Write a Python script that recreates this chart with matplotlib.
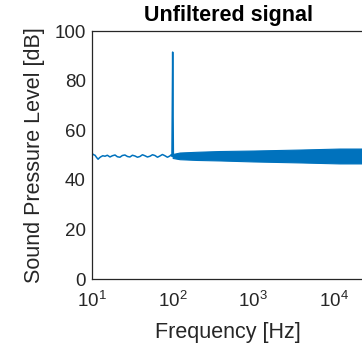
import matplotlib
matplotlib.use("Agg")
import matplotlib.pyplot as plt
import numpy as np

plt.rcParams['font.family'] = ['Liberation Sans', 'DejaVu Sans']
plt.rcParams['mathtext.fontset'] = 'custom'
plt.rcParams['mathtext.rm'] = 'Liberation Sans'
plt.rcParams['mathtext.it'] = 'Liberation Sans'

# --- data ---
title = "Unfiltered signal"
x_label = "Frequency [Hz]"
y_label = "Sound Pressure Level [dB]"

# low-frequency part of the spectrum (thin wiggly line)
lo_freq = [10, 10.5, 10.9, 11.4, 11.9, 12.4, 12.9, 13.6, 14.5, 15.5, 16.7,
           17.9, 19.3, 20.6, 22.2, 23.8, 25.6, 27.5, 29.5, 31.7, 34.1, 36.6,
           39.3, 42.2, 45.3, 48.6, 52.3, 56.2, 60.3, 64.8, 69.5, 74.6, 80.2,
           86.1, 92.4, 96, 98, 100, 102]
lo_level = [50.6, 50.1, 49.9, 49.0, 48.3, 48.9, 49.3, 49.7, 49.5, 49.9, 49.2,
            49.7, 50.0, 49.3, 49.1, 49.8, 50.0, 49.4, 49.2, 49.9, 49.6, 49.1,
            49.4, 50.1, 49.7, 49.2, 49.5, 50.1, 49.8, 49.1, 49.6, 50.2, 49.7,
            49.1, 49.6, 50.1, 49.5, 91.5, 49.4]

# high-frequency part: noise band envelope
band_freq = [100, 122, 200, 383, 1000, 3800, 11700, 22050]
band_lower = [48.8, 48.3, 48.0, 47.8, 47.4, 47.0, 46.6, 46.6]
band_upper = [50.4, 51.0, 51.3, 51.6, 51.8, 52.2, 52.6, 52.6]

x_ticks = [10, 100, 1000, 10000]
x_tick_labels = [r"$10^{1}$", r"$10^{2}$", r"$10^{3}$", r"$10^{4}$"]
y_ticks = [0, 20, 40, 60, 80, 100]

line_color = "#0072BD"
text_color = "#262626"

fig = plt.figure(figsize=(3.62, 3.47), dpi=100)
W, H = 362, 347
ax_left, ax_right, ax_top, ax_bottom = 92, 364.7, 31, 279
ax = fig.add_axes([ax_left / W, (H - ax_bottom) / H,
                   (ax_right - ax_left) / W, (ax_bottom - ax_top) / H])

ax.fill_between(band_freq, band_lower, band_upper, color=line_color,
                linewidth=0.8, edgecolor=line_color)
ax.plot(lo_freq, lo_level, color=line_color, linewidth=1.1)

ax.set_xscale('log')
ax.set_xlim(10, 24000)
ax.set_ylim(0, 100)
ax.set_xticks(x_ticks)
ax.set_xticklabels(x_tick_labels)
ax.minorticks_off()
ax.set_yticks(y_ticks)
ax.tick_params(axis='both', length=0, labelsize=13.5, colors=text_color)
ax.tick_params(axis='x', pad=8.5)
ax.tick_params(axis='y', pad=4.5)

for s in ax.spines.values():
    s.set_color(text_color)
    s.set_linewidth(0.9)

ax.set_title(title, fontsize=15.5, fontweight='bold', color='black', pad=7.4)
ax.set_xlabel(x_label, fontsize=15.5, color=text_color)
ax.set_ylabel(y_label, fontsize=15.5, color=text_color)
ax.xaxis.set_label_coords(0.5, -(322 - 279) / (ax_bottom - ax_top))
ax.yaxis.set_label_coords((45 - 92) / (ax_right - ax_left), 0.5)

fig.savefig("out.png", dpi=100)
